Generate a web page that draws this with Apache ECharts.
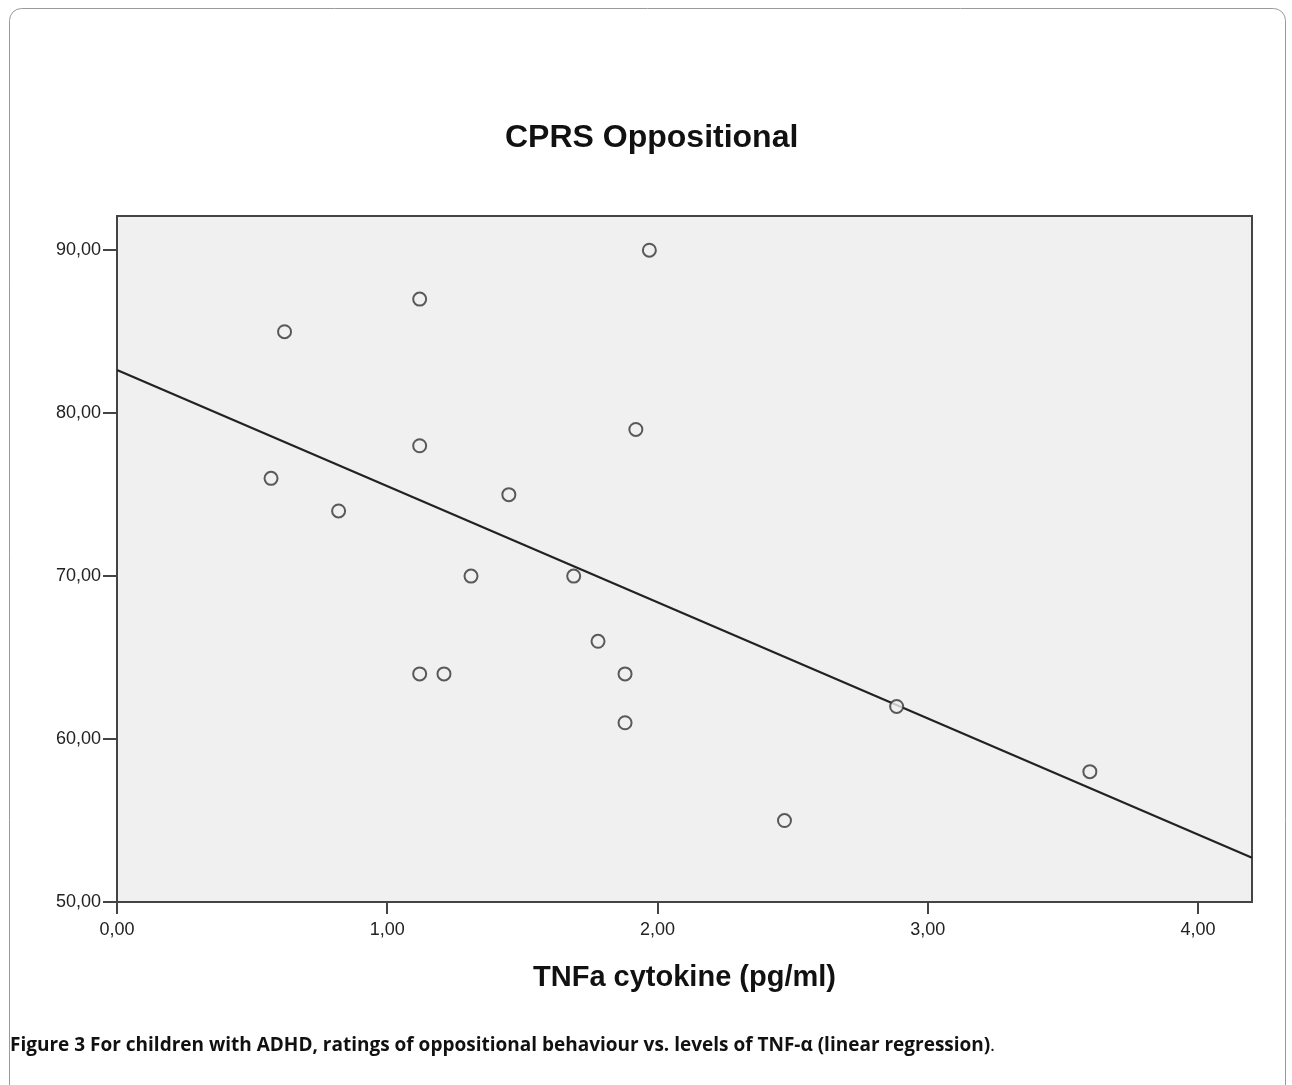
<!DOCTYPE html>
<html>
<head>
<meta charset="utf-8">
<script src="https://cdn.jsdelivr.net/npm/echarts@6/dist/echarts.min.js"></script>
<style>html,body{margin:0;padding:0;background:#fff;}#c{width:1292px;height:1085px;}</style>
</head>
<body>
<div id="c"></div>
<script>
const titleText = 'CPRS Oppositional';
const xName = 'TNFa cytokine (pg/ml)';
const captionBold = 'Figure 3 For children with ADHD, ratings of oppositional behaviour vs. levels of TNF-α (linear regression)';
const tnfValues = [0.57, 0.62, 0.82, 1.12, 1.12, 1.12, 1.21, 1.31, 1.45, 1.69, 1.78, 1.88, 1.88, 1.92, 1.97, 2.47, 2.885, 3.60];
const oppValues = [76, 85, 74, 87, 78, 64, 64, 70, 75, 70, 66, 64, 61, 79, 90, 55, 62, 58];
const xTicks = [0, 1, 2, 3, 4];
const yTicks = [50, 60, 70, 80, 90];
const xRange = [0, 4.2];
const yRange = [50, 92.1];

// least-squares fit
const n = tnfValues.length;
const mx = tnfValues.reduce((a, b) => a + b, 0) / n;
const my = oppValues.reduce((a, b) => a + b, 0) / n;
let sxy = 0, sxx = 0;
for (let i = 0; i < n; i++) { sxy += (tnfValues[i] - mx) * (oppValues[i] - my); sxx += (tnfValues[i] - mx) ** 2; }
const slope = sxy / sxx, intercept = my - slope * mx;
const fitLine = xRange.map(x => [x, intercept + slope * x]);
const points = tnfValues.map((x, i) => [x, oppValues[i]]);

const fmt = v => v.toFixed(2).replace('.', ',');
const chart = echarts.init(document.getElementById('c'));
chart.setOption({
  backgroundColor: '#fff',
  animation: false,
  title: {
    text: titleText, left: 500, top: 117,
    textStyle: { fontFamily: 'Liberation Sans, Arial', fontWeight: 'bold', fontSize: 32, color: '#111' }
  },
  graphic: [
    { type: 'rect', shape: { x: 9.5, y: 8.5, width: 1276, height: 1100, r: 12 }, style: { fill: 'none', stroke: '#9a9a9a', lineWidth: 1 }, z: -1 },
    { type: 'text', left: 10, top: 1036, style: { text: captionBold, font: 'bold 19px "Open Sans"', fill: '#111' } },
    { type: 'text', left: 990, top: 1036, style: { text: '.', font: '19px "Open Sans"', fill: '#111' } }
  ],
  grid: { left: 117, right: 40, top: 216, bottom: 183, show: true, backgroundColor: '#f0f0f0', borderColor: '#444', borderWidth: 2 },
  xAxis: {
    type: 'value', min: xRange[0], max: xRange[1],
    name: xName, nameLocation: 'middle', nameGap: 61,
    nameTextStyle: { fontFamily: 'Liberation Sans, Arial', fontWeight: 'bold', fontSize: 29, color: '#111' },
    axisLine: { show: true, onZero: false, lineStyle: { color: '#444', width: 2 } },
    axisTick: { show: true, length: 12, customValues: xTicks, lineStyle: { color: '#444', width: 2 } },
    axisLabel: { customValues: xTicks, formatter: fmt, fontFamily: 'Liberation Sans, Arial', fontSize: 18, color: '#222', margin: 19 },
    splitLine: { show: false }
  },
  yAxis: {
    type: 'value', min: yRange[0], max: yRange[1],
    axisLine: { show: true, onZero: false, lineStyle: { color: '#444', width: 2 } },
    axisTick: { show: true, length: 14, customValues: yTicks, lineStyle: { color: '#444', width: 2 } },
    axisLabel: { customValues: yTicks, formatter: fmt, fontFamily: 'Liberation Sans, Arial', fontSize: 18, color: '#222', margin: 16 },
    splitLine: { show: false }
  },
  series: [
    { type: 'line', data: fitLine, symbol: 'none', lineStyle: { color: '#222', width: 2.2 }, z: 2 },
    { type: 'scatter', data: points, symbol: 'circle', symbolSize: 13,
      itemStyle: { color: '#f0f0f0', borderColor: '#333', borderWidth: 2 }, z: 3 }
  ]
});
</script>
</body>
</html>
